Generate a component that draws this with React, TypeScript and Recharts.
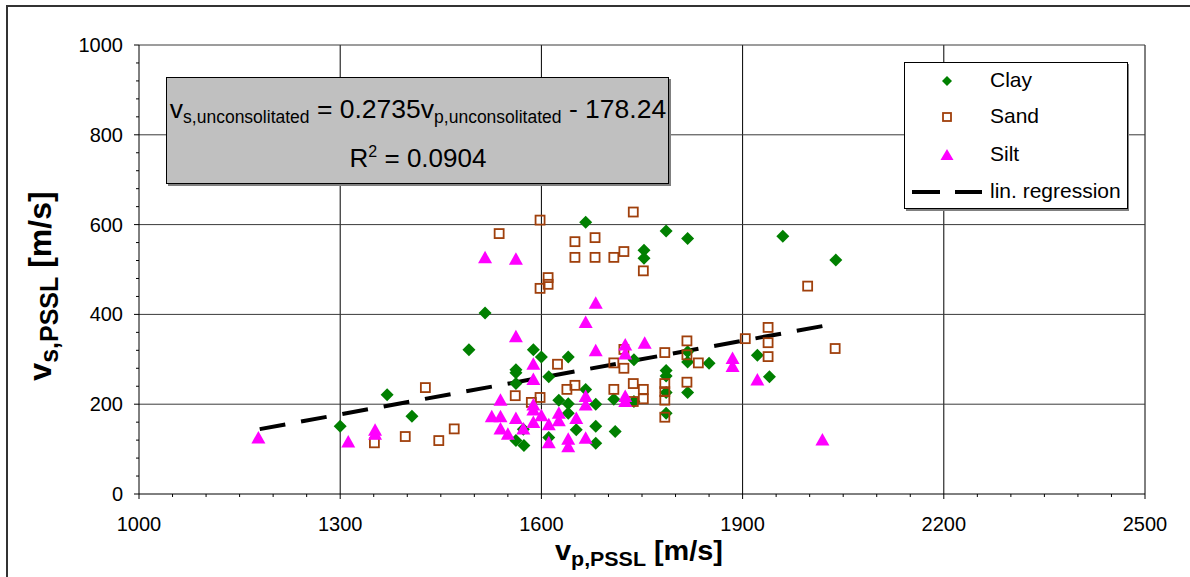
import React from "react";
import { ScatterChart, Scatter, XAxis, YAxis, CartesianGrid, ReferenceLine } from "recharts";

// [vp, vs] in m/s
const clayPts = [
  [1300, 151], [1370, 221], [1407, 173], [1492, 321], [1516, 403],
  [1562, 277], [1562, 270], [1562, 246], [1562, 119], [1573, 144], [1574, 108],
  [1588, 321], [1600, 305], [1611, 261], [1611, 126], [1626, 209],
  [1640, 305], [1640, 201], [1640, 180], [1652, 143], [1666, 605], [1666, 233],
  [1681, 200], [1681, 151], [1681, 113], [1708, 211], [1710, 139],
  [1738, 299], [1738, 206], [1753, 543], [1753, 525],
  [1786, 586], [1786, 275], [1786, 263], [1786, 226], [1786, 180],
  [1818, 569], [1818, 317], [1818, 294], [1818, 226], [1850, 291],
  [1922, 309], [1940, 261], [1960, 574], [2039, 521],
];

const sandPts = [
  [1351, 114], [1397, 128], [1427, 237], [1447, 119], [1470, 145],
  [1537, 580], [1561, 219], [1585, 204], [1598, 610], [1598, 458], [1598, 215],
  [1610, 482], [1610, 467], [1624, 289], [1638, 233],
  [1650, 562], [1650, 527], [1650, 242], [1680, 571], [1680, 527],
  [1708, 527], [1708, 292], [1708, 233], [1723, 540], [1723, 322], [1723, 280],
  [1737, 628], [1737, 246], [1737, 206], [1752, 497], [1752, 233], [1752, 212],
  [1784, 315], [1784, 246], [1784, 228], [1784, 209], [1784, 171],
  [1817, 341], [1817, 310], [1817, 249], [1834, 292],
  [1904, 346], [1938, 371], [1938, 337], [1938, 306], [1997, 463], [2038, 324],
];

const siltPts = [
  [1178, 125], [1312, 116], [1352, 142], [1352, 133],
  [1516, 526], [1526, 172], [1539, 209], [1539, 172], [1539, 145], [1550, 133],
  [1562, 523], [1562, 350], [1562, 168], [1573, 145],
  [1588, 289], [1588, 255], [1588, 198], [1588, 187], [1588, 159],
  [1600, 174], [1611, 154], [1611, 114], [1626, 180], [1626, 163],
  [1640, 122], [1640, 105], [1652, 168], [1666, 382], [1666, 217], [1666, 198], [1666, 124],
  [1681, 425], [1681, 319], [1725, 332], [1725, 312], [1725, 217], [1725, 206],
  [1754, 336], [1885, 302], [1885, 284], [1922, 254], [2019, 120],
];

const regSlope = 0.2735;
const regIntercept = -178.24;
const regFrom = 1180;
const regTo = 2040;

const xMajor = [1000, 1300, 1600, 1900, 2200, 2500];
const yMajor = [0, 200, 400, 600, 800, 1000];
const xTicks: number[] = [];
for (let v = 1000; v <= 2500; v += 50) xTicks.push(v);
const yTicks: number[] = [];
for (let v = 0; v <= 1000; v += 40) yTicks.push(v);

const toRows = (pts: number[][]) => pts.map(([vp, vs]) => ({ vp, vs }));

const FONT = "'Liberation Sans', Arial, sans-serif";
const GREEN = "#008000";
const BROWN = "#a0400c";
const MAGENTA = "#ff00ff";

const Diamond = (p: any) => (
  <polygon
    points={`${p.cx},${p.cy - 6.5} ${p.cx + 6.5},${p.cy} ${p.cx},${p.cy + 6.5} ${p.cx - 6.5},${p.cy}`}
    fill={GREEN}
  />
);
const Square = (p: any) => (
  <rect x={p.cx - 4.5} y={p.cy - 4.5} width={9} height={9} fill="none" stroke={BROWN} strokeWidth={1.8} />
);
const Triangle = (p: any) => (
  <polygon
    points={`${p.cx},${p.cy - 7} ${p.cx + 7},${p.cy + 5.5} ${p.cx - 7},${p.cy + 5.5}`}
    fill={MAGENTA}
  />
);

const XTick = ({ x, y, payload }: any) => {
  const major = xMajor.includes(payload.value);
  return (
    <g>
      <line x1={x} x2={x} y1={y} y2={y + (major ? 5 : 3)} stroke="#000" />
      {major && (
        <text x={x} y={y + 37} textAnchor="middle" fontSize={20} fontFamily={FONT} fill="#000">
          {payload.value}
        </text>
      )}
    </g>
  );
};

const YTick = ({ x, y, payload }: any) => {
  const major = yMajor.includes(payload.value);
  return (
    <g>
      <line x1={x - (major ? 5 : 3)} x2={x} y1={y} y2={y} stroke="#000" />
      {major && (
        <text x={x - 16} y={y + 7} textAnchor="end" fontSize={20} fontFamily={FONT} fill="#000">
          {payload.value}
        </text>
      )}
    </g>
  );
};

export default function App() {
  return (
    <div style={{ position: "absolute", left: 0, top: 0, width: 1190, height: 577, overflow: "hidden", background: "#fff" }}>
      <ScatterChart width={1190} height={577} margin={{ top: 45, right: 45, bottom: 43, left: 79 }}>
        <CartesianGrid horizontal={false} verticalValues={[1300, 1600, 1900, 2200, 2500]} stroke="#000" strokeDasharray="" />
        <CartesianGrid vertical={false} horizontalValues={[200, 400, 600, 800, 1000]} stroke="#3a3a3a" strokeDasharray="" />
        <XAxis
          type="number"
          dataKey="vp"
          domain={[1000, 2500]}
          ticks={xTicks}
          interval={0}
          tickSize={0}
          tickMargin={0}
          tick={<XTick />}
          axisLine={{ stroke: "#000" }}
          height={40}
          allowDataOverflow
        />
        <YAxis
          type="number"
          dataKey="vs"
          domain={[0, 1000]}
          ticks={yTicks}
          interval={0}
          tickSize={0}
          tickMargin={0}
          tick={<YTick />}
          axisLine={{ stroke: "#000" }}
          width={60}
          allowDataOverflow
        />
        <Scatter name="Clay" data={toRows(clayPts)} shape={Diamond} isAnimationActive={false} />
        <Scatter name="Sand" data={toRows(sandPts)} shape={Square} isAnimationActive={false} />
        <Scatter name="Silt" data={toRows(siltPts)} shape={Triangle} isAnimationActive={false} />
        <ReferenceLine
          segment={[
            { x: regFrom, y: regSlope * regFrom + regIntercept },
            { x: regTo, y: regSlope * regTo + regIntercept },
          ]}
          stroke="#000"
          strokeWidth={4}
          strokeDasharray="26 16"
          ifOverflow="visible"
        />
      </ScatterChart>

      <svg
        width={1190}
        height={577}
        style={{ position: "absolute", left: 0, top: 0, pointerEvents: "none" }}
        fontFamily={FONT}
      >
        <rect x={7} y={6} width={1300} height={700} fill="none" stroke="#333" strokeWidth={2} />

        {/* regression equation box */}
        <rect x={168} y={79} width={503} height={107} fill="#808080" />
        <rect x={166.5} y={77.5} width={502} height={106} fill="#c0c0c0" stroke="#000" />
        <text x={418} y={118} textAnchor="middle" fontSize={26.5} fill="#000">
          v<tspan fontSize={17.5} dy={5}>s,unconsolitated</tspan>
          <tspan dy={-5}>{" = 0.2735v"}</tspan>
          <tspan fontSize={17.5} dy={5}>p,unconsolitated</tspan>
          <tspan dy={-5}>{" - 178.24"}</tspan>
        </text>
        <text x={418} y={167} textAnchor="middle" fontSize={26} fill="#000">
          R<tspan fontSize={16} dy={-10}>2</tspan>
          <tspan dy={10}>{" = 0.0904"}</tspan>
        </text>

        {/* legend */}
        <rect x={906} y={64} width={223} height={147} fill="#808080" />
        <rect x={904.5} y={62.5} width={223} height={146} fill="#fff" stroke="#000" />
        <polygon points="947,76 952,81 947,86 942,81" fill={GREEN} />
        <rect x={943} y={113} width={8} height={8} fill="none" stroke={BROWN} strokeWidth={1.8} />
        <polygon points="947,149 953.5,160 940.5,160" fill={MAGENTA} />
        <line x1={912} x2={982} y1={192} y2={192} stroke="#000" strokeWidth={4} strokeDasharray="28 15" />
        <g fontSize={21} fill="#000">
          <text x={990} y={87}>Clay</text>
          <text x={990} y={123}>Sand</text>
          <text x={990} y={161}>Silt</text>
          <text x={990} y={198}>lin. regression</text>
        </g>

        {/* axis titles */}
        <text
          transform="translate(639,560) scale(1.07,1)"
          textAnchor="middle"
          fontSize={27}
          fontWeight="bold"
          fill="#000"
        >
          v<tspan fontSize={20} dy={6}>p,PSSL</tspan>
          <tspan dy={-6}>{" [m/s]"}</tspan>
        </text>
        <text
          transform="translate(51,286) rotate(-90)"
          textAnchor="middle"
          fontSize={32}
          fontWeight="bold"
          fill="#000"
        >
          v<tspan fontSize={25} dy={7}>s,PSSL</tspan>
          <tspan dy={-7}>{" [m/s]"}</tspan>
        </text>
      </svg>
    </div>
  );
}
